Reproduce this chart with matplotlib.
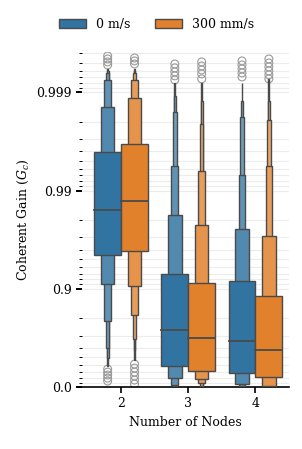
import numpy as np
import matplotlib
matplotlib.use('Agg')
import matplotlib.pyplot as plt
from matplotlib.patches import Patch

plt.rcParams['font.family'] = 'serif'
plt.rcParams['font.serif'] = ['DejaVu Serif']
plt.rcParams['mathtext.fontset'] = 'dejavuserif'

# values are in "nines": -log10(1 - G)
nodes = ['2', '3', '4']
speeds = ['0 m/s', '300 mm/s']

# letter-value boxes, level 1 (inner) to level 6 (outer)
upper_0 = [[2.389, 2.856, 3.124, 3.195, 3.218, 3.239],
           [1.152, 1.751, 2.249, 2.795, 2.964, 3.096],
           [1.076, 1.611, 2.162, 2.751, 2.914, 3.096]]
lower_0 = [[1.347, 1.046, 0.670, 0.393, 0.294, 0.213],
           [0.218, 0.091, 0.025, 0.010, 0.005, 0.002],
           [0.145, 0.027, 0.010, 0.005, 0.003, 0.001]]
median_0 = [1.804, 0.582, 0.467]
outliers_0 = [[3.371, 3.340, 3.310, 3.279, 0.183, 0.152, 0.122, 0.091, 0.061],
              [3.289, 3.249, 3.208, 3.168, 3.127],
              [3.320, 3.279, 3.239, 3.198, 3.157]]

upper_300 = [[2.470, 2.944, 3.124, 3.195, 3.218, 3.239],
             [1.059, 1.645, 2.203, 2.677, 2.914, 3.096],
             [0.924, 1.536, 2.249, 2.716, 2.914, 3.132]]
lower_300 = [[1.381, 1.032, 0.731, 0.494, 0.376, 0.274],
             [0.165, 0.086, 0.041, 0.015, 0.005, 0.002],
             [0.105, 0.013, 0.005, 0.003, 0.002, 0.001]]
median_300 = [1.891, 0.503, 0.373]
outliers_300 = [[3.350, 3.320, 3.289, 0.234, 0.193, 0.152, 0.112, 0.071, 0.030],
                [3.310, 3.269, 3.228, 3.188, 3.137],
                [3.340, 3.299, 3.259, 3.218, 3.178, 3.137]]

yticks_g = [0.0, 0.9, 0.99, 0.999]
ytick_labels = ['0.0', '0.9', '0.99', '0.999']

colors = ['#3274a1', '#e1812c']
edge = '#4a4a4a'


def nines(g):
    return -np.log10(1 - np.asarray(g))


def lighten(c, f):
    rgb = np.array(matplotlib.colors.to_rgb(c))
    return tuple(rgb * (1 - f) + f)


fig = plt.figure(figsize=(3.02, 4.49), dpi=100)
ax = fig.add_axes([0.272, 0.138, 0.685, 0.746])

series = [(upper_0, lower_0, median_0, outliers_0),
          (upper_300, lower_300, median_300, outliers_300)]
offsets = [-0.2, 0.2]
light = [0.0, 0.15, 0.22, 0.3, 0.38, 0.45]

for h, (up, lo, med, out) in enumerate(series):
    for i in range(len(nodes)):
        x = i + offsets[h]
        nlev = len(up[i])
        for k in range(nlev - 1, -1, -1):
            w = 0.4 * 0.5 ** k
            ax.bar(x, up[i][k] - lo[i][k], bottom=lo[i][k], width=w,
                   color=lighten(colors[h], light[k]), edgecolor=edge,
                   linewidth=1.0, zorder=3 + (nlev - k))
        ax.plot([x - 0.2, x + 0.2], [med[i], med[i]], color=edge, lw=1.3, zorder=10)
        ax.scatter(np.full(len(out[i]), x), out[i], s=32, facecolors='none',
                   edgecolors='#9a9a9a', linewidths=0.8, zorder=2)

ax.set_xlim(-0.58, 2.5)
ax.set_ylim(0, 3.41)
ax.set_xticks(range(len(nodes)))
ax.set_xticklabels(nodes)

ax.set_yticks(nines(yticks_g))
ax.set_yticklabels(ytick_labels)
minor = list(np.arange(0.1, 0.85, 0.1)) + list(np.arange(0.91, 0.985, 0.01)) \
    + list(np.arange(0.991, 0.9985, 0.001)) + list(np.arange(0.9991, 0.99965, 0.0001))
ax.set_yticks(nines(minor), minor=True)
ax.grid(axis='y', which='both', color='#ececec', lw=0.8, zorder=0)
ax.set_axisbelow(True)

for s in ['top', 'right', 'left']:
    ax.spines[s].set_visible(False)
ax.spines['bottom'].set_linewidth(1.2)
ax.tick_params(axis='y', which='major', length=4, width=1.4, labelsize=9)
ax.tick_params(axis='y', which='minor', length=2.5, width=0.7)
ax.tick_params(axis='x', length=4, width=1.2, labelsize=9)

ax.set_xlabel('Number of Nodes', fontsize=9)
ax.set_ylabel('Coherent Gain ($G_c$)', fontsize=9)

handles = [Patch(facecolor=colors[h], edgecolor=edge, label=speeds[h]) for h in range(2)]
fig.legend(handles=handles, loc='upper center', bbox_to_anchor=(0.518, 0.985), ncol=2,
           frameon=False, fontsize=9, handlelength=2.15, columnspacing=2.0)

fig.savefig('out.png', dpi=100)
